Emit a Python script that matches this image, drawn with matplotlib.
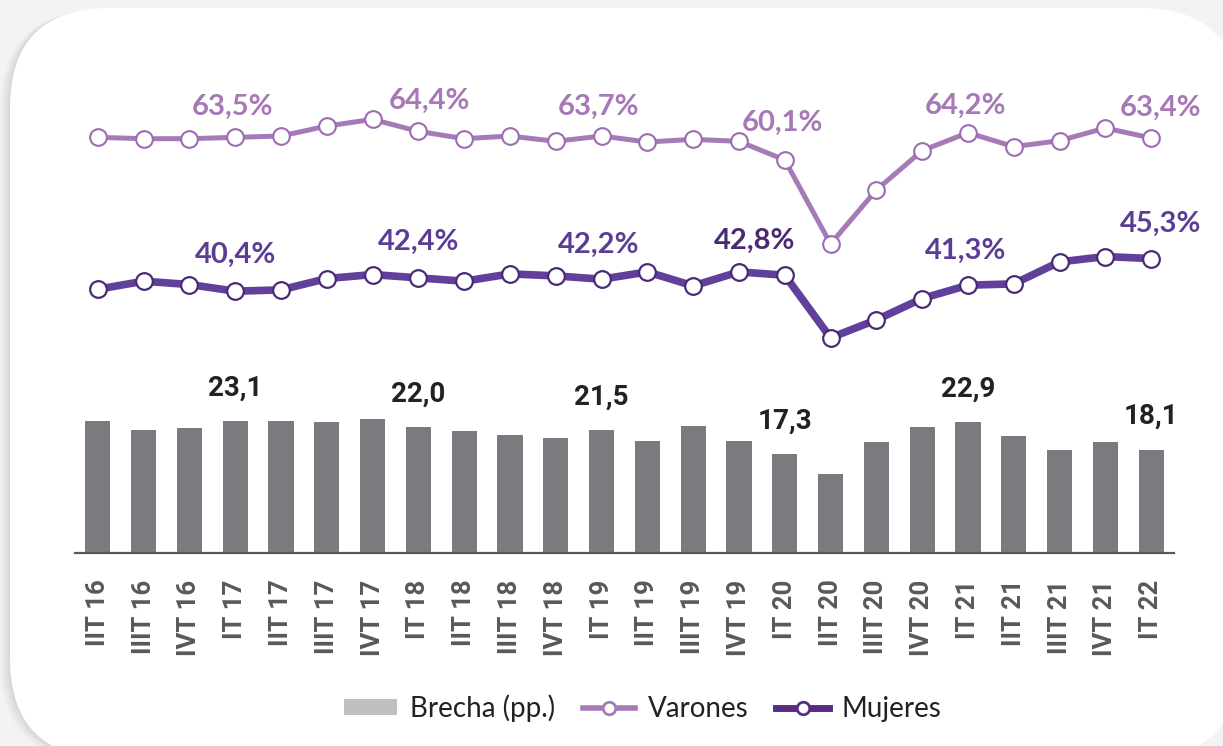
import matplotlib
matplotlib.use("Agg")
import matplotlib.pyplot as plt
from matplotlib.patches import FancyBboxPatch, Patch
from matplotlib.lines import Line2D

# data
trimestres = ["IIT 16", "IIIT 16", "IVT 16", "IT 17", "IIT 17", "IIIT 17", "IVT 17",
              "IT 18", "IIT 18", "IIIT 18", "IVT 18", "IT 19", "IIT 19", "IIIT 19",
              "IVT 19", "IT 20", "IIT 20", "IIIT 20", "IVT 20", "IT 21", "IIT 21",
              "IIIT 21", "IVT 21", "IT 22"]
varones = [63.5, 63.3, 63.3, 63.5, 63.7, 65.2, 66.2, 64.4, 63.3, 63.7, 62.9, 63.7,
           62.8, 63.2, 62.9, 60.1, 47.5, 55.6, 61.5, 64.2, 62.1, 63.0, 64.9, 63.4]
mujeres = [40.7, 41.9, 41.4, 40.4, 40.6, 42.3, 42.9, 42.4, 41.9, 43.0, 42.7, 42.2,
           43.3, 41.2, 43.3, 42.8, 33.4, 36.1, 39.3, 41.3, 41.5, 44.8, 45.6, 45.3]
brecha = [23.1, 21.5, 21.9, 23.1, 23.1, 23.0, 23.5, 22.0, 21.4, 20.7, 20.2, 21.5,
          19.7, 22.2, 19.6, 17.3, 13.8, 19.5, 22.1, 22.9, 20.5, 18.1, 19.4, 18.1]
etiquetados = [3, 7, 11, 15, 19, 23]

C_VAR = "#a57bb7"
C_MUJ = "#60409a"
C_BAR = "#7a7b7f"
C_TXT = "#58595b"

W, H = 1223, 746
fig = plt.figure(figsize=(W / 100, H / 100), dpi=100)
fig.patch.set_facecolor("#f3f3f3")

# background card with a soft shadow
bg = fig.add_axes([0, 0, 1, 1], zorder=-5)
bg.set_xlim(0, W)
bg.set_ylim(H, 0)
bg.axis("off")
for i, a in enumerate([0.05, 0.05, 0.06, 0.07, 0.08]):
    g = 10 - i * 2
    bg.add_patch(FancyBboxPatch((10 - g, 8 + g * 0.3), 1230, 750, boxstyle="round,pad=0,rounding_size=100",
                                fc="#9a9a9a", ec="none", alpha=a))
bg.add_patch(FancyBboxPatch((10, 8), 1230, 750, boxstyle="round,pad=0,rounding_size=100",
                            fc="white", ec="none"))

x = list(range(len(trimestres)))
left = 75 / W
width = 1099 / W

# bars
axb = fig.add_axes([left, (H - 553) / H, width, 170 / H])
axb.bar(x, brecha, width=0.55, color=C_BAR, zorder=2)
axb.set_xlim(-0.5, len(x) - 0.5)
axb.set_ylim(0, 29.8)
axb.patch.set_alpha(0)
for s in ["top", "right", "left"]:
    axb.spines[s].set_visible(False)
axb.spines["bottom"].set_color(C_TXT)
axb.spines["bottom"].set_linewidth(1.6)
axb.set_yticks([])
axb.set_xticks(x)
axb.set_xticklabels(trimestres, rotation=90, va="top", ha="center", fontsize=18.5,
                    fontweight="bold", color=C_TXT, family="Roboto")
axb.tick_params(axis="x", length=0, pad=19)
for i in etiquetados:
    axb.annotate(f"{brecha[i]:.1f}".replace(".", ","), (i, brecha[i]), xytext=(0, 24),
                 textcoords="offset points", ha="center", va="center", fontsize=20,
                 fontweight="bold", color="#222222", family="Roboto")

# lines
axl = fig.add_axes([left, (H - 350) / H, width, 260 / H])
axl.set_xlim(-0.5, len(x) - 0.5)
axl.set_ylim(31.57, 70.61)
axl.axis("off")
axl.plot(x, varones, color=C_VAR, lw=3.6, marker="o", ms=12, mfc="white", mec="#9d6cb0",
         mew=1.5, zorder=3)
axl.plot(x, mujeres, color=C_MUJ, lw=5.5, marker="o", ms=12, mfc="white", mec="#4a2a75",
         mew=1.6, zorder=3)

off_var = {3: (-2, 22), 7: (8, 22), 11: (-2, 21), 15: (-2, 27), 19: (-2, 19), 23: (7, 22)}
off_muj = {3: (0, 26), 7: (0, 26), 11: (-2, 25), 15: (-22, 25), 19: (-2, 25), 23: (7, 25)}
for i in etiquetados:
    axl.annotate(f"{varones[i]:.1f}%".replace(".", ","), (i, varones[i]), xytext=off_var[i],
                 textcoords="offset points", ha="center", va="center", fontsize=21,
                 fontweight="bold", color="#a678b5", family="Lato")
    cm = "#4c2a72" if i == 15 else "#5c3d95"
    axl.annotate(f"{mujeres[i]:.1f}%".replace(".", ","), (i, mujeres[i]), xytext=off_muj[i],
                 textcoords="offset points", ha="center", va="center", fontsize=21,
                 fontweight="bold", color=cm, family="Lato")

# legend
handles = [Patch(fc="#bebfc1", ec="none"),
           Line2D([], [], color=C_VAR, lw=4, marker="o", ms=9, mfc="white", mec=C_VAR, mew=2),
           Line2D([], [], color="#5a2d85", lw=5, marker="o", ms=9, mfc="white", mec="#5a2d85", mew=2)]
fig.legend(handles, ["Brecha (pp.)", "Varones", "Mujeres"], loc="center",
           bbox_to_anchor=(643 / W, 1 - 708 / H), ncol=3, frameon=False,
           prop={"family": "Lato", "size": 20}, handlelength=1.9, handleheight=0.55,
           columnspacing=1.0, handletextpad=0.45, labelcolor="#222222")

fig.savefig("out.png", dpi=100, facecolor=fig.get_facecolor())
